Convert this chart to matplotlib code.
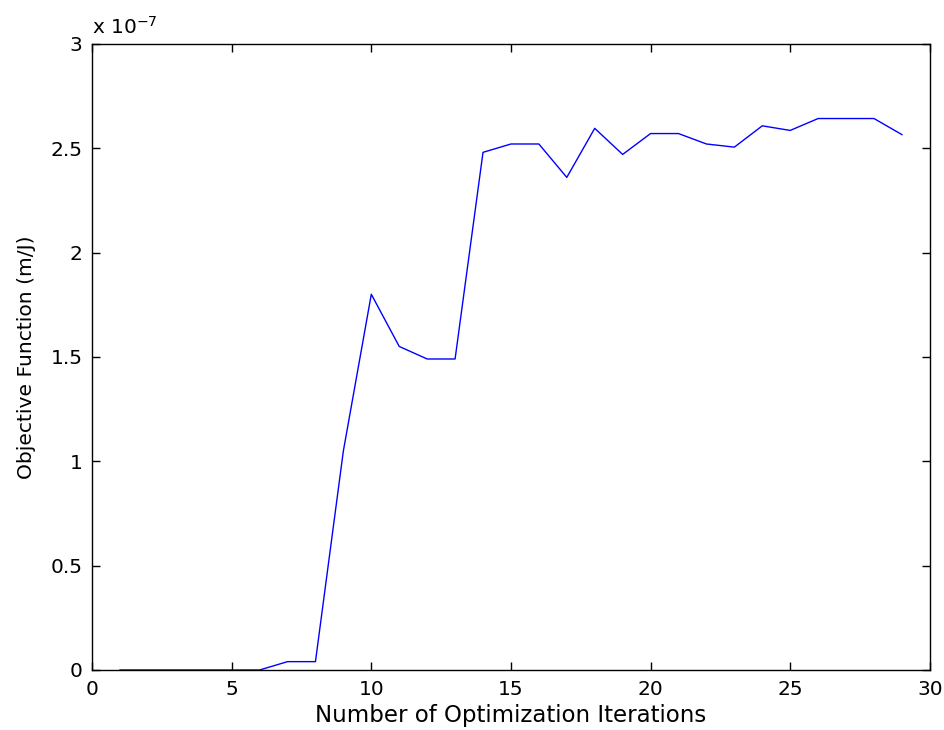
import matplotlib
matplotlib.use("Agg")
import matplotlib.pyplot as plt
from matplotlib.ticker import FormatStrFormatter

plt.rcParams['font.family'] = ['DejaVu Sans']

# objective per iteration, in units of 1e-7 m/J
iterations = list(range(1, 30))
objective = [0.0, 0.0, 0.0, 0.0, 0.0, 0.0, 0.04, 0.04, 1.05, 1.80,
             1.55, 1.49, 1.49, 2.48, 2.52, 2.52, 2.36, 2.595, 2.47, 2.57,
             2.57, 2.52, 2.505, 2.607, 2.585, 2.642, 2.642, 2.642, 2.565]

fig = plt.figure(figsize=(9.44, 7.3), dpi=100)
ax = fig.add_axes([0.0975, 0.0822, 0.8875, 0.8578])

ax.plot(iterations, objective, color=(0, 0, 1), linewidth=1.0)

ax.set_xlim(0, 30)
ax.set_ylim(0, 3)
ax.set_xticks(range(0, 31, 5))
ax.set_yticks([0, 0.5, 1, 1.5, 2, 2.5, 3])
ax.yaxis.set_major_formatter(FormatStrFormatter('%g'))
ax.tick_params(direction='in', length=6, width=1, labelsize=14.5,
               top=True, right=True, pad=7)
for s in ax.spines.values():
    s.set_linewidth(1.0)

ax.set_xlabel('Number of Optimization Iterations', fontsize=16.5, labelpad=4)
ax.set_ylabel('Objective Function (m/J)', fontsize=14.6, labelpad=10)
ax.text(0.0, 1.01, r'x 10$^{-7}$', transform=ax.transAxes,
        fontsize=14.5, ha='left', va='bottom')

fig.savefig('out.png', dpi=100)
